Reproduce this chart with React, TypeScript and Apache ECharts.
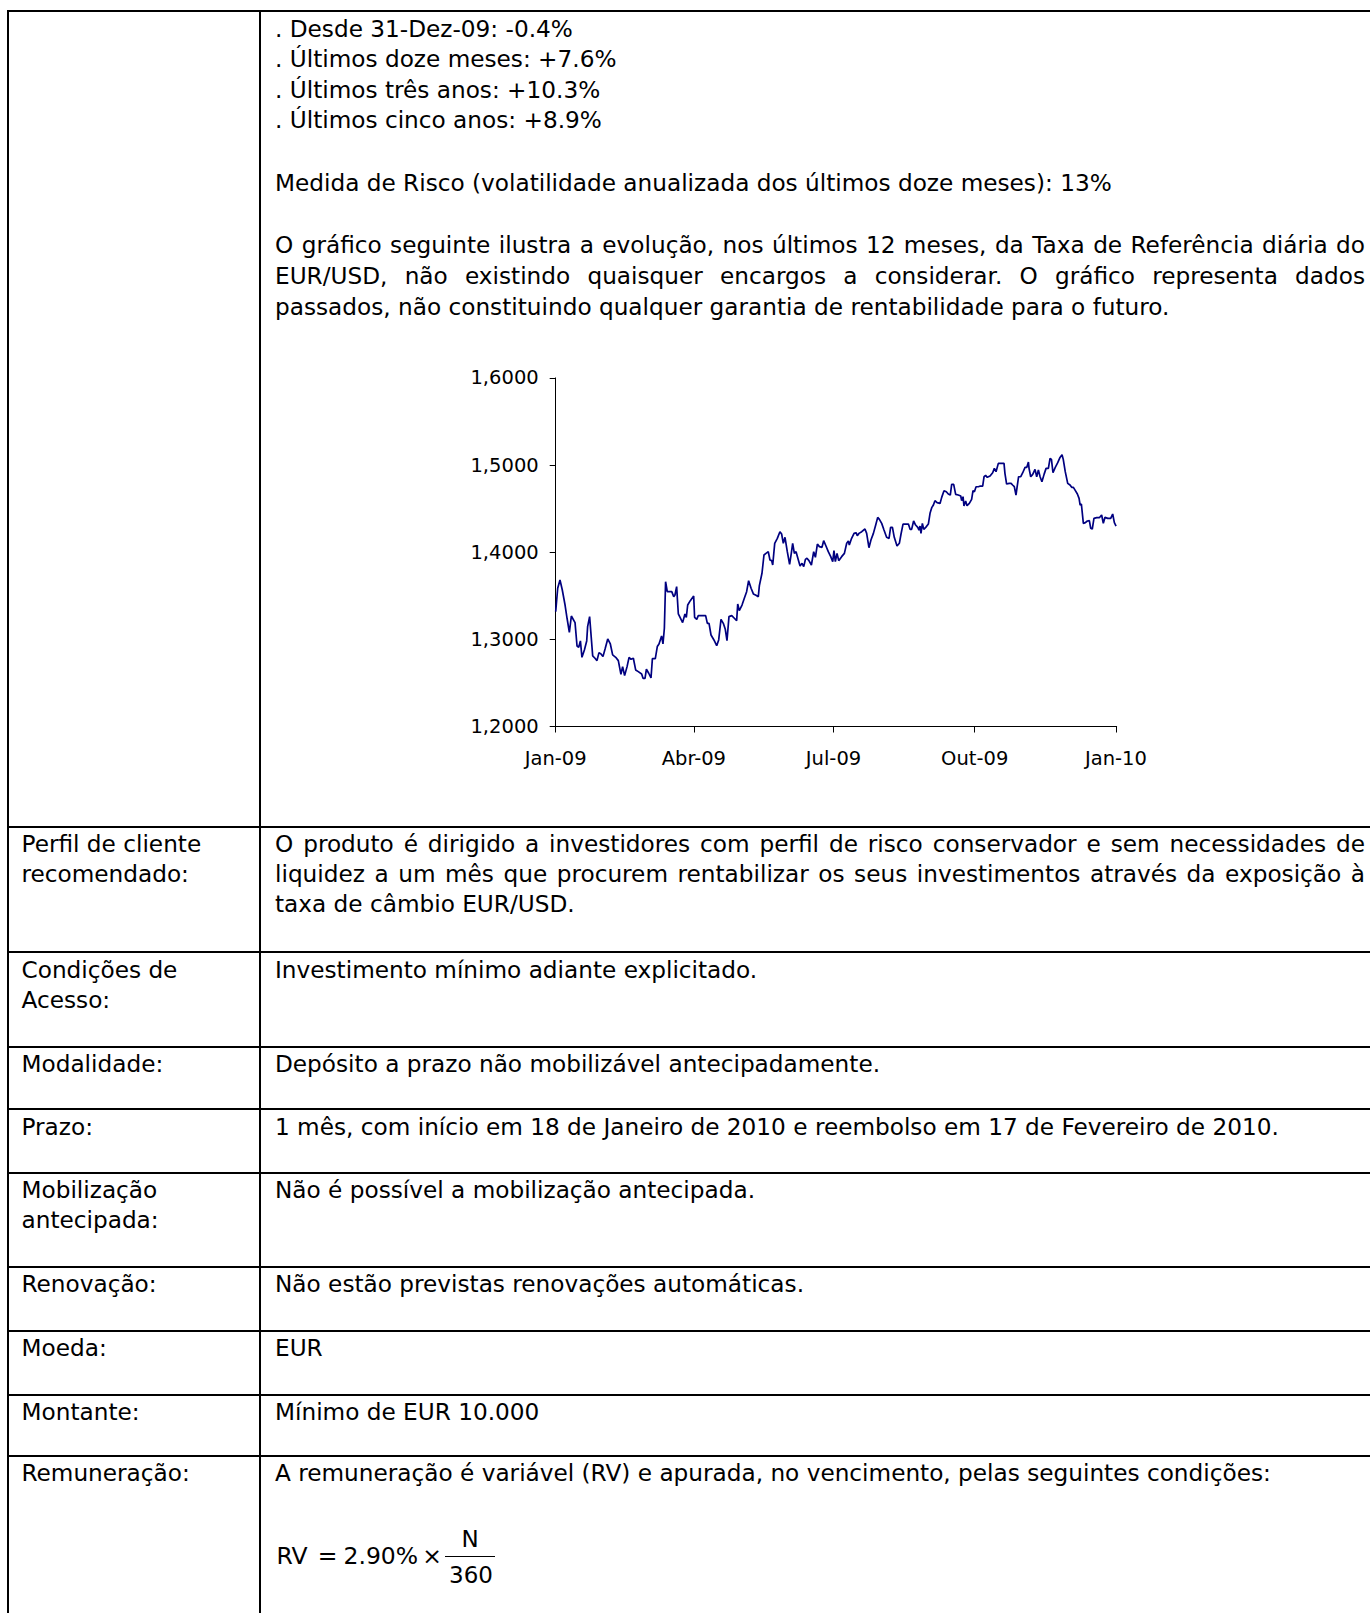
import React, { useEffect, useRef } from "react";
import * as echarts from "echarts";

const FONT = '"DejaVu Sans", sans-serif';

// EUR/USD daily reference rate (x = days since 1-Jan-2009)
const dayOffsets = [
  0, 1.3, 2.8, 4.3, 6.1, 7.4, 8.9, 10.2, 12.6, 13.9, 15.0, 16.1, 17.1, 18.7, 20.2, 20.8, 22.1, 24.1, 25.6, 26.9,
  28.2, 29.5, 30.8, 32.3, 33.9, 35.6, 37.1, 39.1, 40.8, 42.5, 43.6, 44.9, 46.5, 47.8, 49.1, 50.6, 52.1, 53.8, 56.0, 56.9,
  58.2, 59.1, 60.6, 62.1, 63.0, 64.9, 66.2, 67.3, 69.0, 69.9, 70.8, 71.6, 72.7, 75.6, 76.9, 77.7, 78.8, 79.9, 82.7, 84.2,
  85.1, 86.0, 87.7, 89.9, 90.5, 91.9, 92.9, 97.7, 98.8, 99.9, 101.2, 103.1, 104.9, 106.2, 107.7, 109.2, 110.5, 111.6, 112.9, 114.7,
  116.4, 117.9, 118.6, 119.6, 121.4, 122.9, 124.4, 125.7, 127.3, 128.8, 130.5, 132.0, 132.7, 134.4, 135.7, 137.0, 138.5, 139.6, 140.7, 141.4,
  142.7, 144.4, 146.1, 147.2, 148.3, 149.4, 150.9, 152.4, 153.5, 154.4, 155.5, 156.6, 158.1, 159.2, 160.5, 161.6, 162.7, 163.7, 165.0, 166.6,
  168.1, 169.2, 170.5, 171.8, 173.5, 174.6, 176.1, 177.6, 179.2, 180.5, 181.3, 182.2, 183.3, 184.4, 186.3, 188.1, 189.6, 190.7, 191.3, 192.8,
  194.4, 195.7, 196.5, 197.6, 199.4, 201.5, 202.6, 204.1, 205.4, 207.0, 208.5, 209.8, 210.9, 212.4, 213.9, 215.6, 217.2, 218.2, 219.4, 220.6,
  222.4, 223.9, 225.0, 226.3, 228.0, 229.8, 230.9, 231.9, 233.2, 234.5, 235.9, 236.7, 237.4, 238.0, 238.9, 239.8, 241.1, 242.8, 243.9, 245.0,
  246.1, 247.1, 248.5, 250.4, 251.5, 253.0, 254.5, 255.8, 257.1, 258.0, 259.3, 260.6, 262.3, 263.9, 264.5, 265.4, 266.0, 267.1, 268.0, 269.5,
  271.0, 271.9, 272.8, 273.9, 275.4, 276.7, 278.2, 279.1, 280.1, 281.2, 283.0, 284.7, 285.8, 286.9, 288.4, 289.9, 292.1, 292.7, 293.8, 295.4,
  296.7, 297.7, 298.8, 299.9, 300.6, 301.6, 303.0, 304.3, 305.8, 306.9, 308.0, 308.4, 309.5, 310.8, 312.3, 313.4, 314.5, 315.6, 316.8, 318.2,
  319.5, 321.0, 322.1, 323.0, 324.0, 325.5, 327.1, 328.6, 329.9, 330.7, 332.0, 333.6, 335.1, 336.2, 337.3, 338.6, 339.9, 341.0, 341.7, 342.5,
  343.8, 345.1, 346.4, 347.7, 348.6, 349.6, 350.7, 352.5, 354.2, 355.7, 356.8, 357.9, 359.7, 361.6, 362.9, 364.0, 365.1,
];

const rates = [
  1.3318, 1.3586, 1.3681, 1.3566, 1.3394, 1.3242, 1.3081, 1.3268, 1.3192, 1.2924, 1.2909, 1.2982, 1.2794, 1.2878, 1.2982, 1.3146, 1.3261, 1.281, 1.2783, 1.2756,
  1.2848, 1.2833, 1.2802, 1.2898, 1.3005, 1.2947, 1.2821, 1.2794, 1.2756, 1.2599, 1.2687, 1.2584, 1.2687, 1.2794, 1.2771, 1.2783, 1.2649, 1.263, 1.2603, 1.2553,
  1.2553, 1.2657, 1.2611, 1.2557, 1.2779, 1.2779, 1.2917, 1.2947, 1.3039, 1.2947, 1.3127, 1.3662, 1.3547, 1.3547, 1.349, 1.3509, 1.3605, 1.3291, 1.3192, 1.3291,
  1.3253, 1.3394, 1.3444, 1.3498, 1.3253, 1.323, 1.3272, 1.3272, 1.3184, 1.3184, 1.305, 1.2993, 1.2928, 1.2993, 1.323, 1.3184, 1.3115, 1.2986, 1.3261, 1.3272,
  1.3242, 1.3215, 1.3406, 1.3329, 1.3394, 1.3471, 1.3547, 1.3673, 1.3586, 1.3521, 1.3505, 1.349, 1.3616, 1.3758, 1.3968, 1.3987, 1.4006, 1.3911, 1.3903, 1.3853,
  1.4102, 1.4159, 1.4235, 1.4209, 1.4102, 1.4171, 1.4006, 1.3861, 1.3987, 1.4102, 1.3987, 1.4006, 1.3911, 1.3842, 1.3872, 1.3834, 1.3918, 1.393, 1.3903, 1.3853,
  1.4006, 1.3941, 1.4094, 1.4064, 1.4056, 1.4132, 1.4071, 1.4006, 1.3949, 1.3891, 1.4018, 1.3891, 1.3987, 1.3903, 1.3949, 1.3987, 1.4102, 1.4128, 1.4083, 1.4159,
  1.4216, 1.4224, 1.419, 1.4216, 1.4235, 1.4266, 1.4216, 1.4052, 1.414, 1.4216, 1.4312, 1.44, 1.4377, 1.4331, 1.4254, 1.4171, 1.4159, 1.4285, 1.4285, 1.4171,
  1.4071, 1.4102, 1.4209, 1.4323, 1.4323, 1.4323, 1.4262, 1.4262, 1.4358, 1.4312, 1.4285, 1.4254, 1.43, 1.4216, 1.4331, 1.4262, 1.4285, 1.4323, 1.4446, 1.4511,
  1.4542, 1.4591, 1.4568, 1.456, 1.4629, 1.4706, 1.4694, 1.4668, 1.4656, 1.4778, 1.4778, 1.4664, 1.4656, 1.4645, 1.4591, 1.4637, 1.453, 1.4587, 1.4534, 1.456,
  1.4607, 1.4706, 1.4694, 1.4751, 1.4751, 1.4759, 1.4759, 1.4866, 1.4881, 1.4859, 1.4874, 1.4912, 1.4962, 1.4924, 1.5019, 1.5019, 1.5019, 1.4905, 1.4782, 1.479,
  1.479, 1.4771, 1.4752, 1.4656, 1.4744, 1.4866, 1.4866, 1.4912, 1.4973, 1.4973, 1.5034, 1.4962, 1.4866, 1.4893, 1.495, 1.4866, 1.4943, 1.4866, 1.4809, 1.4893,
  1.4962, 1.4962, 1.5076, 1.5065, 1.4912, 1.4973, 1.5027, 1.5088, 1.5119, 1.5065, 1.4924, 1.479, 1.4771, 1.4744, 1.4744, 1.4706, 1.4668, 1.4618, 1.4541, 1.4553,
  1.4331, 1.4339, 1.4358, 1.4362, 1.4274, 1.4266, 1.4388, 1.4396, 1.4396, 1.4427, 1.4331, 1.44, 1.4388, 1.4388, 1.4438, 1.4339, 1.43,
];

const startDate = "2009-01-01";
const axisEndDay = 365.5;
const tickDates = ["2009-01-01", "2009-04-01", "2009-07-01", "2009-10-01", "2010-01-01"];
const tickLabels = ["Jan-09", "Abr-09", "Jul-09", "Out-09", "Jan-10"];
const yMin = 1.2;
const yMax = 1.6;
const yStep = 0.1;

// Page texts
const introLines = [
  ". Desde 31-Dez-09: -0.4%",
  ". Últimos doze meses: +7.6%",
  ". Últimos três anos: +10.3%",
  ". Últimos cinco anos: +8.9%",
];
const riskLine = "Medida de Risco (volatilidade anualizada dos últimos doze meses): 13%";
const chartIntro = [
  "O gráfico seguinte ilustra a evolução, nos últimos 12 meses, da Taxa de Referência diária do",
  "EUR/USD, não existindo quaisquer encargos a considerar. O gráfico representa dados",
  "passados, não constituindo qualquer garantia de rentabilidade para o futuro.",
];

const rowLabels = [
  ["Perfil de cliente", "recomendado:"],
  ["Condições de", "Acesso:"],
  ["Modalidade:"],
  ["Prazo:"],
  ["Mobilização", "antecipada:"],
  ["Renovação:"],
  ["Moeda:"],
  ["Montante:"],
  ["Remuneração:"],
];
const rowTexts = [
  [
    "O produto é dirigido a investidores com perfil de risco conservador e sem necessidades de",
    "liquidez a um mês que procurem rentabilizar os seus investimentos através da exposição à",
    "taxa de câmbio EUR/USD.",
  ],
  ["Investimento mínimo adiante explicitado."],
  ["Depósito a prazo não mobilizável antecipadamente."],
  ["1 mês, com início em 18 de Janeiro de 2010 e reembolso em 17 de Fevereiro de 2010."],
  ["Não é possível a mobilização antecipada."],
  ["Não estão previstas renovações automáticas."],
  ["EUR"],
  ["Mínimo de EUR 10.000"],
  ["A remuneração é variável (RV) e apurada, no vencimento, pelas seguintes condições:"],
];
const formula = { lhs: "RV", eq: "=", rate: "2.90%", times: "×", num: "N", den: "360" };

// layout
const rowLineCenters = [826.7, 952.3, 1046.7, 1109.3, 1172.7, 1266.7, 1330.7, 1395, 1456];
const LEFT_X = 21.5;
const RIGHT_X = 275;
const RIGHT_W = 1090;
const LINE_H = 30;
const BODY_SIZE = 23.2;

function dayOf(s: string) {
  const [y, m, d] = s.split("-").map(Number);
  const [y0, m0, d0] = startDate.split("-").map(Number);
  return Math.round((Date.UTC(y, m - 1, d) - Date.UTC(y0, m0 - 1, d0)) / 86400000);
}

function Txt(props: {
  x: number;
  baseline: number;
  text: string;
  width?: number;
  justify?: boolean;
  size?: number;
  center?: boolean;
}) {
  const size = props.size ?? BODY_SIZE;
  const off = (LINE_H - 1.1641 * size) / 2 + 0.9282 * size;
  const style: React.CSSProperties = {
    position: "absolute",
    left: props.center ? props.x - 100 : props.x,
    top: props.baseline - off,
    height: LINE_H,
    lineHeight: LINE_H + "px",
    fontSize: size,
    fontFamily: FONT,
    color: "#000",
    whiteSpace: "nowrap",
  };
  if (props.justify) {
    style.width = props.width;
    style.textAlign = "justify";
    (style as any).textAlignLast = "justify";
  }
  if (props.center) {
    style.width = 200;
    style.textAlign = "center";
  }
  return <div style={style}>{props.text}</div>;
}

function Chart() {
  const ref = useRef<HTMLDivElement>(null);
  useEffect(() => {
    if (!ref.current) return;
    const chart = echarts.init(ref.current, null, { renderer: "svg" });
    const points = dayOffsets.map((d, i) => [d, rates[i]]);
    const tickDays = tickDates.map(dayOf);
    chart.setOption({
      animation: false,
      grid: {
        left: 155.7,
        top: 37.9,
        width: axisEndDay * 1.5348,
        height: 348.6,
        containLabel: false,
      },
      xAxis: {
        type: "value",
        min: 0,
        max: axisEndDay,
        axisLine: { show: true, onZero: false, lineStyle: { color: "#000", width: 1 } },
        axisTick: { show: true, length: 6, customValues: tickDays, lineStyle: { color: "#000", width: 1 } },
        axisLabel: {
          customValues: tickDays,
          formatter: (v: number) => {
            let best = 0;
            tickDays.forEach((t, i) => {
              if (Math.abs(t - v) < Math.abs(tickDays[best] - v)) best = i;
            });
            return tickLabels[best];
          },
          fontFamily: FONT,
          fontSize: 19.5,
          color: "#000",
          margin: 22,
        },
        splitLine: { show: false },
      },
      yAxis: {
        type: "value",
        min: yMin,
        max: yMax,
        interval: yStep,
        axisLine: { show: true, lineStyle: { color: "#000", width: 1 } },
        axisTick: { show: true, length: 6, lineStyle: { color: "#000", width: 1 } },
        axisLabel: {
          formatter: (v: number) => v.toFixed(4).replace(".", ","),
          fontFamily: FONT,
          fontSize: 19.5,
          color: "#000",
          margin: 17,
        },
        splitLine: { show: false },
      },
      series: [
        {
          type: "line",
          data: points,
          showSymbol: false,
          symbol: "none",
          lineStyle: { color: "#000080", width: 1.7 },
        },
      ],
    });
    return () => chart.dispose();
  }, []);
  return (
    <div
      ref={ref}
      style={{ position: "absolute", left: 400, top: 340, width: 800, height: 460 }}
    />
  );
}

function HLine(props: { y: number }) {
  return (
    <div
      style={{ position: "absolute", left: 7, top: props.y - 1, width: 1370, height: 2, background: "#000" }}
    />
  );
}

export default function App() {
  const rows: React.ReactNode[] = [];
  rowLineCenters.forEach((c, r) => {
    const b0 = c + 25.5;
    rowLabels[r].forEach((t, i) => {
      rows.push(<Txt key={`l${r}-${i}`} x={LEFT_X} baseline={b0 + i * LINE_H} text={t} />);
    });
    const lines = rowTexts[r];
    lines.forEach((t, i) => {
      const justify = i < lines.length - 1;
      rows.push(
        <Txt key={`r${r}-${i}`} x={RIGHT_X} baseline={b0 + i * LINE_H} text={t} justify={justify} width={RIGHT_W} />
      );
    });
  });

  return (
    <div
      style={{
        position: "absolute",
        left: 0,
        top: 0,
        width: 1370,
        height: 1613,
        overflow: "hidden",
        background: "#fff",
      }}
    >
      <HLine y={11.3} />
      {rowLineCenters.map((c, i) => (
        <HLine key={i} y={c} />
      ))}
      <div style={{ position: "absolute", left: 7, top: 10.3, width: 2, height: 1700, background: "#000" }} />
      <div style={{ position: "absolute", left: 259, top: 10.3, width: 2, height: 1700, background: "#000" }} />

      {introLines.map((t, i) => (
        <Txt key={`i${i}`} x={RIGHT_X} baseline={36.7 + i * 30.6} text={t} />
      ))}
      <Txt x={RIGHT_X} baseline={190.7} text={riskLine} />
      {chartIntro.map((t, i) => (
        <Txt
          key={`c${i}`}
          x={RIGHT_X}
          baseline={253.5 + i * 30.85}
          text={t}
          justify={i < chartIntro.length - 1}
          width={RIGHT_W}
        />
      ))}

      <Chart />

      {rows}

      <Txt x={276.5} baseline={1564} text={formula.lhs} size={23.5} />
      <Txt x={327.5} baseline={1564} text={formula.eq} size={23.5} center />
      <Txt x={343.5} baseline={1564} text={formula.rate} size={23.5} />
      <Txt x={432} baseline={1564} text={formula.times} size={23.5} center />
      <div style={{ position: "absolute", left: 445, top: 1555.5, width: 50, height: 1.2, background: "#000" }} />
      <Txt x={470} baseline={1547} text={formula.num} size={23} center />
      <Txt x={471} baseline={1583} text={formula.den} size={23} center />
    </div>
  );
}
